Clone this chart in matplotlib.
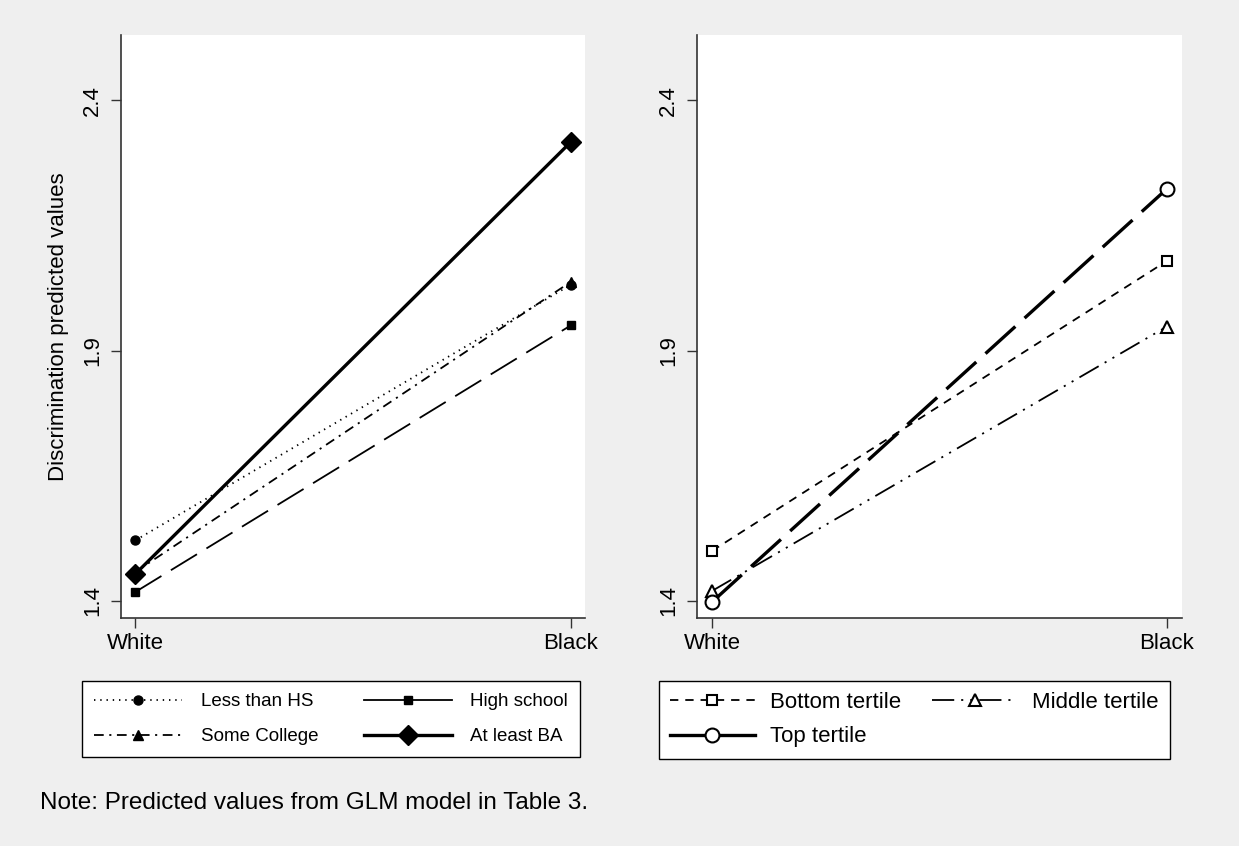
import matplotlib
matplotlib.use("Agg")
import matplotlib.pyplot as plt
from matplotlib.lines import Line2D

plt.rcParams['font.family'] = ['Liberation Sans', 'DejaVu Sans']
plt.rcParams['lines.scale_dashes'] = False

# ---- data ----
groups = ['White', 'Black']
edu_labels = ['Less than HS', 'High school', 'Some College', 'At least BA']
less_than_hs = [1.521, 2.031]
high_school = [1.418, 1.950]
some_college = [1.458, 2.037]
at_least_ba = [1.454, 2.316]

tert_labels = ['Bottom tertile', 'Middle tertile', 'Top tertile']
bottom_tertile = [1.500, 2.079]
middle_tertile = [1.420, 1.948]
top_tertile = [1.398, 2.223]

yticks = [1.4, 1.9, 2.4]
ylabel = 'Discrimination predicted values'
note = 'Note: Predicted values from GLM model in Table 3.'

BG = '#efefef'
fig = plt.figure(figsize=(12.39, 8.46), dpi=100, facecolor=BG)

W, H = 1239, 846
def ax_rect(x0, x1, y0, y1):
    return [x0 / W, 1 - y1 / H, (x1 - x0) / W, (y1 - y0) / H]

axL = fig.add_axes(ax_rect(121, 585, 35, 618))
axR = fig.add_axes(ax_rect(697, 1182, 35, 618))

x = list(range(len(groups)))

edu_styles = [
    dict(ls=(0, (1, 3.5)), lw=1.3, marker='o', ms=6.5),
    dict(ls=(0, (22, 8)), lw=1.3, marker='s', ms=6),
    dict(ls=(0, (7, 4, 1.5, 4)), lw=1.3, marker='^', ms=7),
    dict(ls='-', lw=2.4, marker='D', ms=10),
]
edu_series = [less_than_hs, high_school, some_college, at_least_ba]
for vals, st in zip(edu_series, edu_styles):
    axL.plot(x, vals, color='black', linestyle=st['ls'], lw=st['lw'],
             marker=st['marker'], ms=st['ms'], mfc='black', mec='black')

tert_styles = [
    dict(ls=(0, (6, 5)), lw=1.3, marker='s', ms=7.5),
    dict(ls=(0, (16, 5, 1.5, 5, 1.5, 5)), lw=1.3, marker='^', ms=8.5),
    dict(ls=(0, (29, 9)), lw=2.4, marker='o', ms=10),
]
tert_series = [bottom_tertile, middle_tertile, top_tertile]
for vals, st in zip(tert_series, tert_styles):
    axR.plot(x, vals, color='black', linestyle=st['ls'], lw=st['lw'],
             marker=st['marker'], ms=st['ms'], mfc='white', mec='black', mew=1.5)

for ax in (axL, axR):
    ax.set_facecolor('white')
    ax.set_xlim(-0.033, 1.033)
    ax.set_ylim(1.366, 2.53)
    ax.set_xticks(x)
    ax.set_xticklabels(groups, fontsize=16)
    ax.set_yticks(yticks)
    ax.set_yticklabels([f'{v:.1f}' for v in yticks], fontsize=16, rotation=90, va='center')
    for s in ('top', 'right'):
        ax.spines[s].set_visible(False)
    for s in ('left', 'bottom'):
        ax.spines[s].set_linewidth(1.2)
        ax.spines[s].set_color('#333333')
    ax.tick_params(axis='both', length=7, width=1.0, color='#333333', pad=4)
    ax.tick_params(axis='y', pad=6)

axL.set_ylabel(ylabel, fontsize=16, labelpad=9)

# legends (row-major order: matplotlib fills columns first)
edu_handles = [
    Line2D([], [], color='black', ls=(0, (1, 3.5)), lw=1.3, marker='o', ms=6.5, mfc='black'),
    Line2D([], [], color='black', ls='-', lw=1.3, marker='s', ms=6, mfc='black'),
    Line2D([], [], color='black', ls=(0, (7, 4, 1.5, 4)), lw=1.3, marker='^', ms=7, mfc='black'),
    Line2D([], [], color='black', ls='-', lw=2.4, marker='D', ms=10, mfc='black'),
]
order_edu = [0, 2, 1, 3]
legL = fig.legend([edu_handles[i] for i in order_edu], [edu_labels[i] for i in order_edu],
                  ncol=2, loc='upper left', bbox_to_anchor=(82 / W, 1 - 681 / H),
                  fontsize=13.5, frameon=True, fancybox=False, framealpha=1,
                  edgecolor='black', handlelength=4.7, handletextpad=1.0,
                  borderpad=0.65, labelspacing=0.95, columnspacing=2.4,
                  borderaxespad=0)
legL.get_frame().set_linewidth(1.0)

tert_handles = [
    Line2D([], [], color='black', ls=(0, (6, 5)), lw=1.3, marker='s', ms=7.5, mfc='white', mew=1.5),
    Line2D([], [], color='black', ls=(0, (16, 5, 1.5, 5, 1.5, 5)), lw=1.3, marker='^', ms=8.5, mfc='white', mew=1.5),
    Line2D([], [], color='black', ls='-', lw=2.4, marker='o', ms=10, mfc='white', mew=1.5),
]
order_tert = [0, 2, 1]
legR = fig.legend([tert_handles[i] for i in order_tert], [tert_labels[i] for i in order_tert],
                  ncol=2, loc='upper left', bbox_to_anchor=(659 / W, 1 - 681 / H),
                  fontsize=16, frameon=True, fancybox=False, framealpha=1,
                  edgecolor='black', handlelength=3.8, handletextpad=0.7,
                  borderpad=0.5, labelspacing=0.6, columnspacing=1.4,
                  borderaxespad=0)
legR.get_frame().set_linewidth(1.0)

fig.text(40 / W, 1 - 803 / H, note, fontsize=17.5, ha='left', va='center')

fig.savefig('out.png', dpi=100, facecolor=BG)
